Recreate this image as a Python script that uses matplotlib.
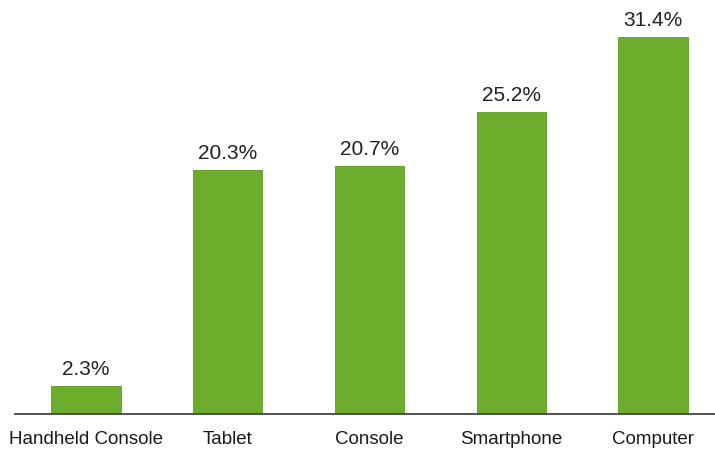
import matplotlib.pyplot as plt

plt.rcParams['font.family'] = ['Liberation Sans', 'DejaVu Sans']

devices = ['Handheld Console', 'Tablet', 'Console', 'Smartphone', 'Computer']
shares = [2.3, 20.3, 20.7, 25.2, 31.4]

fig = plt.figure(figsize=(7.15, 4.49), dpi=100)
ax = fig.add_axes([0.0, 35 / 449, 1.0, 414 / 449])

x = list(range(len(devices)))
bars = ax.bar(x, shares, width=0.49, color='#6cae2c', edgecolor='#5c9a24', linewidth=0.6)

# pixel spacing between bar centres is ~141.75, first centre at ~86 px
ax.set_xlim(-86 / 141.75, (715 - 86) / 141.75)
ax.set_ylim(0, 34.5)

# Data labels above bars
for bar, v in zip(bars, shares):
    ax.annotate(f'{v}%', xy=(bar.get_x() + bar.get_width() / 2, v),
                xytext=(0, 5), textcoords='offset points',
                ha='center', va='bottom', fontsize=15, color='#222222')

ax.set_xticks(x)
ax.set_xticklabels(devices, fontsize=13.5, color='#1a1a1a')
ax.tick_params(axis='x', length=0, pad=12)
ax.set_yticks([])

for side in ['top', 'right', 'left']:
    ax.spines[side].set_visible(False)
ax.spines['bottom'].set_color('#444444')
ax.spines['bottom'].set_linewidth(1.3)
ax.spines['bottom'].set_bounds((15 - 86) / 141.75, (715 - 86) / 141.75)

plt.savefig('out.png', dpi=100)
